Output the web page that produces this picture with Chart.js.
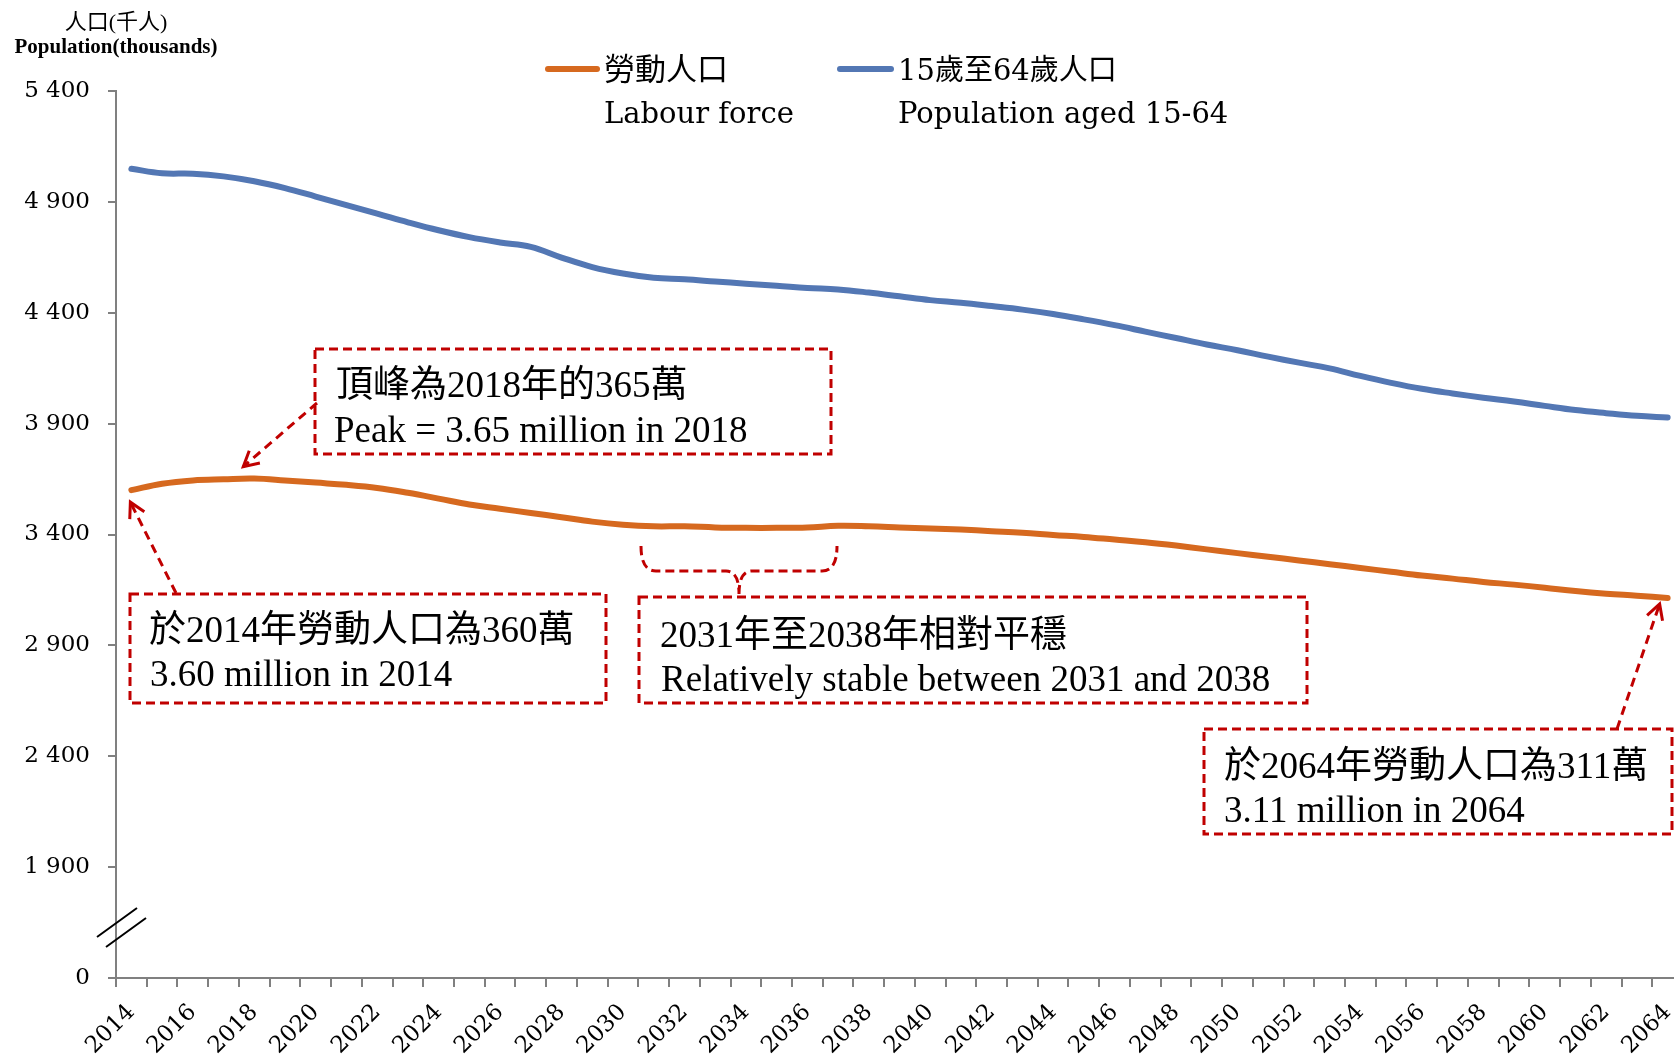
<!DOCTYPE html>
<html>
<head>
<meta charset="utf-8">
<script src="https://cdn.jsdelivr.net/npm/chart.js@4.4.1/dist/chart.umd.min.js"></script>
<style>
  html, body { margin: 0; padding: 0; background: #fff; overflow: hidden; }
  #wrap { position: absolute; left: 0; top: 0; width: 1684px; height: 1056px; }
</style>
</head>
<body>
<div id="wrap"><canvas id="chart" width="1684" height="1056"></canvas></div>
<script>
// years on the x axis
const years = [
  '2014','2015','2016','2017','2018','2019','2020','2021','2022','2023',
  '2024','2025','2026','2027','2028','2029','2030','2031','2032','2033',
  '2034','2035','2036','2037','2038','2039','2040','2041','2042','2043',
  '2044','2045','2046','2047','2048','2049','2050','2051','2052','2053',
  '2054','2055','2056','2057','2058','2059','2060','2061','2062','2063',
  '2064'
];

// labour force (thousands)
const labourForce = [
  3600, 3629, 3644, 3649, 3652, 3644, 3634, 3624, 3610, 3588,
  3562, 3535, 3516, 3497, 3478, 3458, 3444, 3437, 3437, 3432,
  3430, 3430, 3432, 3439, 3437, 3432, 3427, 3422, 3415, 3408,
  3398, 3389, 3377, 3365, 3350, 3333, 3316, 3300, 3283, 3266,
  3249, 3232, 3215, 3201, 3186, 3174, 3160, 3145, 3133, 3124,
  3114
];

// population aged 15-64 (thousands)
const pop1564 = [
  5049, 5029, 5027, 5015, 4993, 4962, 4924, 4885, 4847, 4808,
  4772, 4741, 4717, 4697, 4649, 4606, 4577, 4558, 4551, 4541,
  4531, 4522, 4512, 4505, 4491, 4474, 4457, 4445, 4430, 4414,
  4394, 4370, 4344, 4315, 4286, 4257, 4231, 4202, 4175, 4149,
  4115, 4084, 4057, 4036, 4017, 4000, 3980, 3961, 3947, 3935,
  3928
];

// y axis has a break: the bottom tick stands for 0
const yTickValues = [1400, 1900, 2400, 2900, 3400, 3900, 4400, 4900, 5400];
const yTickLabels = ['0', '1 900', '2 400', '2 900', '3 400', '3 900', '4 400', '4 900', '5 400'];

const orange = '#D6691F';
const blue = '#5377B4';
const red = '#C00000';

const serif = "'Liberation Serif', 'Noto Sans CJK TC', serif";
const century = "'DejaVu Serif', 'Noto Sans CJK TC', serif";

function txt(ctx, s, x, y, font, align) {
  ctx.font = font;
  ctx.textAlign = align || 'left';
  ctx.textBaseline = 'middle';
  ctx.fillStyle = '#000';
  ctx.fillText(s, x, y);
}

function dashedBox(ctx, x, y, w, h) {
  ctx.save();
  ctx.strokeStyle = red;
  ctx.lineWidth = 3;
  ctx.setLineDash([9, 5]);
  ctx.strokeRect(x, y, w, h);
  ctx.restore();
}

function arrow(ctx, x0, y0, x1, y1) {
  ctx.save();
  ctx.strokeStyle = red;
  ctx.lineWidth = 3;
  ctx.setLineDash([9, 6]);
  ctx.beginPath();
  ctx.moveTo(x0, y0);
  ctx.lineTo(x1, y1);
  ctx.stroke();
  ctx.setLineDash([]);
  const a = Math.atan2(y1 - y0, x1 - x0);
  const len = 17;
  ctx.beginPath();
  ctx.moveTo(x1 - len * Math.cos(a - 0.5), y1 - len * Math.sin(a - 0.5));
  ctx.lineTo(x1, y1);
  ctx.lineTo(x1 - len * Math.cos(a + 0.5), y1 - len * Math.sin(a + 0.5));
  ctx.stroke();
  ctx.restore();
}

const extras = {
  id: 'extras',
  afterDraw(chart) {
    const ctx = chart.ctx;
    const xs = chart.scales.x, ys = chart.scales.y;
    const axisX = chart.chartArea.left;

    // axis title
    txt(ctx, '人口(千人)', axisX, 23, "22px " + serif, 'center');
    txt(ctx, 'Population(thousands)', axisX, 48, "bold 21px " + serif, 'center');

    // legend
    ctx.save();
    ctx.lineCap = 'round';
    ctx.lineWidth = 6;
    ctx.strokeStyle = orange;
    ctx.beginPath(); ctx.moveTo(548, 69); ctx.lineTo(597, 69); ctx.stroke();
    ctx.strokeStyle = blue;
    ctx.beginPath(); ctx.moveTo(840, 69); ctx.lineTo(891, 69); ctx.stroke();
    ctx.restore();
    txt(ctx, '勞動人口', 604, 72, "31px " + century);
    txt(ctx, 'Labour force', 604, 115, "29px " + century);
    txt(ctx, '15歲至64歲人口', 898, 72, "29px " + century);
    txt(ctx, 'Population aged 15-64', 898, 115, "29px " + century);

    // axis break marks
    ctx.save();
    ctx.strokeStyle = '#000';
    ctx.lineWidth = 2;
    ctx.beginPath();
    ctx.moveTo(97, 937); ctx.lineTo(137, 908);
    ctx.moveTo(106, 947); ctx.lineTo(146, 918);
    ctx.stroke();
    ctx.restore();

    const annFont = "37px " + serif;

    // peak box
    dashedBox(ctx, 315, 349, 516, 105);
    txt(ctx, '頂峰為2018年的365萬', 336, 387, annFont);
    txt(ctx, 'Peak = 3.65 million in 2018', 334, 432, annFont);
    const pk = 4;
    arrow(ctx, 317, 403, xs.getPixelForValue(pk) - 11, ys.getPixelForValue(labourForce[pk]) - 12);

    // 2014 box
    dashedBox(ctx, 130, 594, 476, 109);
    txt(ctx, '於2014年勞動人口為360萬', 149, 632, annFont);
    txt(ctx, '3.60 million in 2014', 150, 676, annFont);
    arrow(ctx, 176, 593, xs.getPixelForValue(0) - 1, ys.getPixelForValue(labourForce[0]) + 12);

    // stable box + brace
    dashedBox(ctx, 639, 597, 668, 106);
    txt(ctx, '2031年至2038年相對平穩', 660, 637, annFont);
    txt(ctx, 'Relatively stable between 2031 and 2038', 661, 681, annFont);
    ctx.save();
    ctx.strokeStyle = red;
    ctx.lineWidth = 3;
    ctx.setLineDash([9, 5]);
    ctx.beginPath();
    ctx.moveTo(641, 546);
    ctx.quadraticCurveTo(641, 571, 656, 571);
    ctx.lineTo(726, 571);
    ctx.quadraticCurveTo(739, 571, 739, 594);
    ctx.moveTo(739, 594);
    ctx.quadraticCurveTo(739, 571, 752, 571);
    ctx.lineTo(822, 571);
    ctx.quadraticCurveTo(837, 571, 837, 546);
    ctx.stroke();
    ctx.restore();

    // 2064 box
    dashedBox(ctx, 1204, 729, 468, 105);
    txt(ctx, '於2064年勞動人口為311萬', 1224, 768, annFont);
    txt(ctx, '3.11 million in 2064', 1224, 812, annFont);
    const last = years.length - 1;
    arrow(ctx, 1617, 729, xs.getPixelForValue(last) - 8, ys.getPixelForValue(labourForce[last]) + 6);
  }
};

new Chart(document.getElementById('chart'), {
  type: 'line',
  data: {
    labels: years,
    datasets: [
      { label: '勞動人口 Labour force', data: labourForce, borderColor: orange },
      { label: '15歲至64歲人口 Population aged 15-64', data: pop1564, borderColor: blue }
    ]
  },
  options: {
    responsive: false,
    animation: false,
    devicePixelRatio: 1,
    layout: { padding: { top: 91, right: 1, left: 0, bottom: 0 } },
    plugins: { legend: { display: false }, tooltip: { enabled: false } },
    elements: {
      point: { radius: 0 },
      line: { tension: 0.4, borderWidth: 6, borderCapStyle: 'round', borderJoinStyle: 'round', fill: false }
    },
    scales: {
      x: {
        type: 'category',
        offset: true,
        grid: { offset: true, drawOnChartArea: false, tickLength: 9, color: '#808080', lineWidth: 2 },
        border: { color: '#808080', width: 2 },
        ticks: {
          autoSkip: false, maxRotation: 45, minRotation: 45, padding: 12,
          color: '#000', font: { family: "'DejaVu Serif'", size: 23 },
          callback: (v, i) => (i % 2 === 0 ? years[i] : '')
        },
        afterFit: s => { s.height = 78; s.paddingLeft = 0; s.paddingRight = 0; }
      },
      y: {
        min: 1400,
        max: 5400,
        afterBuildTicks: s => { s.ticks = yTickValues.map(v => ({ value: v })); },
        grid: { drawOnChartArea: false, tickLength: 8, color: '#808080', lineWidth: 2 },
        border: { color: '#808080', width: 2 },
        ticks: {
          padding: 18, color: '#000', font: { family: "'DejaVu Serif'", size: 23 },
          callback: (v, i) => yTickLabels[i]
        },
        afterFit: s => { s.width = 116; s.paddingTop = 0; s.paddingBottom = 0; }
      }
    }
  },
  plugins: [extras]
});
</script>
</body>
</html>
